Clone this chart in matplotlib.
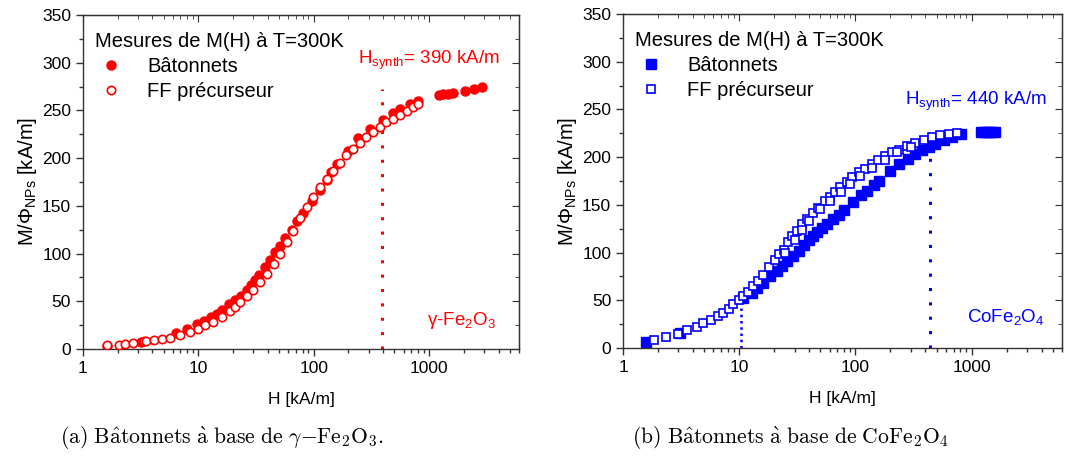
"""Courbes M(H) a T=300K des batonnets et de leur ferrofluide precurseur (gamma-Fe2O3 et CoFe2O4)."""
import matplotlib

matplotlib.use("Agg")
import matplotlib.pyplot as plt
from matplotlib.ticker import LogLocator, MultipleLocator, NullFormatter

plt.rcParams["font.family"] = ["Liberation Sans", "DejaVu Sans"]
plt.rcParams["mathtext.fontset"] = "custom"
plt.rcParams["mathtext.rm"] = "Liberation Sans"
plt.rcParams["mathtext.it"] = "Liberation Sans:italic"

# --- gamma-Fe2O3 : batonnets (points pleins) ---
fe_bat_h = [1.6, 3.2, 6.4, 8.0, 9.7, 11.2, 12.8, 14.4, 15.9, 18.5, 20.8, 23.2, 26.2, 28.4, 31,
            33.8, 37.9, 41.7, 46.3, 51, 56.5, 64.5, 72, 81, 96, 113, 129, 142, 159, 198, 240,
            310, 400, 490, 555, 680, 800, 1210, 1320, 1450, 1610, 2040, 2450, 2850]
fe_bat_m = [3, 7.3, 16.8, 21, 26, 29, 33.5, 37, 41, 47, 51, 56, 62, 67, 72,
            78, 86, 93, 102, 108, 116, 125, 134, 142, 155, 167, 177, 185, 194, 207, 221,
            231, 240, 247, 251, 257, 260, 266, 267, 267.5, 268.6, 270.4, 272.4, 275]
# --- gamma-Fe2O3 : ferrofluide precurseur (cercles vides) ---
fe_ff_h = [1.63, 2.06, 2.3, 2.7, 3.35, 3.5, 4.1, 4.8, 5.7, 6.9, 8.5, 10, 11.4, 13.5, 15.9, 18.8,
           20.8, 23, 26.2, 29.9, 34.3, 39, 45, 51, 58.5, 66.5, 76, 87, 99, 113, 129, 147,
           168, 192, 219, 250, 286, 327, 373, 426, 490, 555, 640, 727, 800]
fe_ff_m = [3.8, 4.5, 5.6, 6.6, 8, 8, 9, 10.8, 11.9, 15, 17.8, 21, 25, 28, 34, 40,
           44, 49, 55, 62, 70, 79, 89, 100, 112, 124, 137, 149, 159, 170, 178, 187,
           195, 203, 210, 216, 222, 227, 233, 237.5, 241, 245.5, 249, 253.6, 257]

# --- CoFe2O4 : batonnets (carres pleins) ---
co_bat_h = [1.57, 3.08, 10.7, 12.8, 14.3, 16, 18.5, 21, 23.3, 26, 29, 32.5, 35.8, 39.6, 43,
            47, 51.5, 56.5, 64.6, 71.7, 80, 96, 112, 127, 145, 161, 198, 239, 283, 327, 376,
            430, 487, 575, 680, 815, 1200, 1280, 1350, 1420, 1500, 1580]
co_bat_m = [6.3, 16, 52, 58, 63, 68, 75, 81, 86, 91, 96, 102, 108, 113, 117,
            122, 126, 130, 135, 139, 145, 153, 160, 165, 171, 175, 185, 193, 198, 203, 207,
            211, 214, 218, 221, 224, 226, 226, 226, 226, 226, 226]
# --- CoFe2O4 : ferrofluide precurseur (carres vides, deux branches) ---
co_ff_h = [1.84, 2.33, 2.98, 3.57, 4.3, 4.9, 5.7, 6.6, 7.2, 8.1, 8.9, 10, 10.8, 11.9, 13.2,
           14.6, 16.1, 18, 20.3, 22.2, 24.1, 26.5, 28.7, 31.3, 34.6, 38.1, 43, 48, 55, 60.8,
           67, 74, 84, 94, 107, 122, 140, 158, 181, 206, 236, 278, 327, 390, 460, 540, 640, 750,
           25, 30, 35, 40, 50, 60, 75, 90, 110, 140, 180, 230, 300]
co_ff_m = [8.7, 11.5, 15, 18.5, 22, 26.6, 29, 34, 37, 41, 46, 50, 55, 59, 65,
           70, 76, 85, 92, 98, 103, 111, 117, 123, 130, 135, 141, 147, 154, 158,
           164, 169, 174, 179, 184, 188, 193, 197, 201, 205, 208, 212, 215, 218, 221, 223, 224, 225,
           100, 113, 124, 133, 146, 154, 164, 172, 180, 189, 197, 205, 211]

RED = "#ff0000"
BLUE = "#0000ff"
XMAX = 6000


def style_axes(ax):
    ax.set_xscale("log")
    ax.set_xlim(1, XMAX)
    ax.set_ylim(0, 350)
    ax.yaxis.set_major_locator(MultipleLocator(50))
    ax.yaxis.set_minor_locator(MultipleLocator(25))
    ax.xaxis.set_major_locator(LogLocator(base=10, numticks=10))
    ax.xaxis.set_minor_locator(LogLocator(base=10, subs=range(2, 10), numticks=20))
    ax.xaxis.set_minor_formatter(NullFormatter())
    ax.xaxis.set_major_formatter(plt.FuncFormatter(lambda v, _: f"{v:g}"))
    ax.tick_params(which="both", direction="out", top=False, right=False, labelsize=12.5,
                   width=1.0, color="#333333")
    ax.tick_params(which="major", length=5)
    ax.tick_params(which="minor", length=3)
    for s in ax.spines.values():
        s.set_linewidth(1.0)
        s.set_color("#333333")
    # ticks of top/right sides point inward
    top = ax.secondary_xaxis("top")
    top.xaxis.set_major_locator(LogLocator(base=10, numticks=10))
    top.xaxis.set_minor_locator(LogLocator(base=10, subs=range(2, 10), numticks=20))
    top.tick_params(which="both", direction="in", labeltop=False, color="#333333")
    top.tick_params(which="major", length=5)
    top.tick_params(which="minor", length=3)
    right = ax.secondary_yaxis("right")
    right.yaxis.set_major_locator(MultipleLocator(50))
    right.yaxis.set_minor_locator(MultipleLocator(25))
    right.tick_params(which="both", direction="in", labelright=False, color="#333333")
    right.tick_params(which="major", length=5)
    right.tick_params(which="minor", length=3)
    ax.set_xlabel("H [kA/m]", fontsize=12.5, labelpad=12)
    ax.set_ylabel(r"M/$\Phi_{\mathrm{NPs}}$ [kA/m]", fontsize=14.5, labelpad=2)


def add_legend(ax):
    h, l = ax.get_legend_handles_labels()
    ax.legend(h[::-1], l[::-1], title="Mesures de M(H) à T=300K", loc="upper left",
              bbox_to_anchor=(0.0, 0.985), frameon=False, fontsize=14.5, title_fontsize=14.5,
              alignment="left", handlelength=1.6, handletextpad=1.0, labelspacing=0.3,
              borderaxespad=0.3, borderpad=0.3)


fig = plt.figure(figsize=(10.76, 4.59), dpi=100)
ax1 = fig.add_axes([0.0771, 0.2397, 0.4052, 0.7277])
ax2 = fig.add_axes([0.579, 0.2418, 0.408, 0.7277])

# (a) gamma-Fe2O3
ax1.plot(fe_ff_h, fe_ff_m, "o", ms=6, mfc="white", mec=RED, mew=1.2, ls="none",
         label="FF précurseur", zorder=3)
ax1.plot(fe_bat_h, fe_bat_m, "o", ms=6.5, color=RED, ls="none", label="Bâtonnets", zorder=2)
ax1.plot([390, 390], [0, 272], ls=(0, (1, 3.7)), lw=2.2, color=RED, zorder=1)
ax1.text(240, 302, r"H$_{\mathrm{synth}}$= 390 kA/m", color=RED, fontsize=13.5, va="center")
ax1.text(950, 30, r"γ-Fe$_2$O$_3$", color=RED, fontsize=13.5, va="center")
style_axes(ax1)
add_legend(ax1)

# (b) CoFe2O4
ax2.plot(co_ff_h, co_ff_m, "s", ms=6, mfc="white", mec=BLUE, mew=1.2, ls="none",
         label="FF précurseur", zorder=3)
ax2.plot(co_bat_h, co_bat_m, "s", ms=6.5, color=BLUE, ls="none", label="Bâtonnets", zorder=2)
ax2.plot([440, 440], [0, 226], ls=(0, (1, 3.7)), lw=2.2, color=BLUE, zorder=1)
ax2.plot([10.3, 10.3], [0, 46], ls=(0, (1, 1.5)), lw=1.8, color=BLUE, zorder=1)
ax2.text(266, 258, r"H$_{\mathrm{synth}}$= 440 kA/m", color=BLUE, fontsize=13.5, va="center")
ax2.text(910, 32, r"CoFe$_2$O$_4$", color=BLUE, fontsize=13.5, va="center")
style_axes(ax2)
add_legend(ax2)

# sous-titres facon LaTeX
cap = dict(fontsize=15.6, ha="center", va="center", math_fontfamily="cm")
fig.text(0.206, 0.046, r"$\mathrm{(a)\ B\^atonnets\ \`a\ base\ de\ }\gamma\mathrm{{-}Fe_2O_3.}$", **cap)
fig.text(0.735, 0.046, r"$\mathrm{(b)\ B\^atonnets\ \`a\ base\ de\ CoFe_2O_4}$", **cap)

fig.savefig("out.png", dpi=100)
